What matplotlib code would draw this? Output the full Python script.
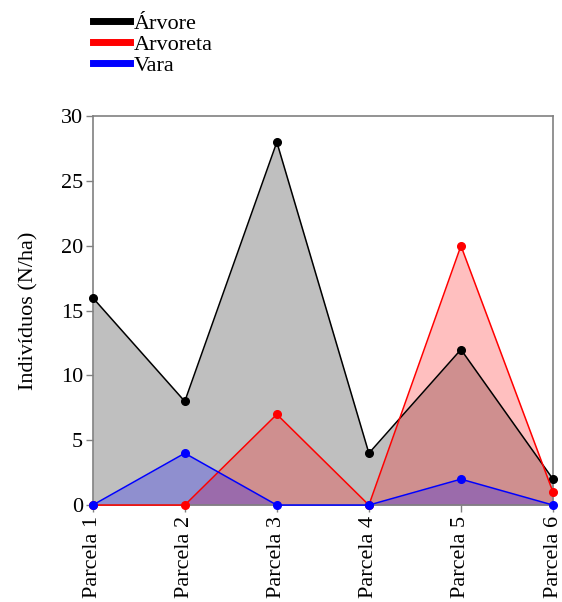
import matplotlib.pyplot as plt
import numpy as np
from matplotlib.lines import Line2D

plt.rcParams['font.family'] = ['Liberation Serif', 'DejaVu Serif']

# categorias
parcelas = ["Parcela 1", "Parcela 2", "Parcela 3", "Parcela 4", "Parcela 5", "Parcela 6"]

# valores por classe
arvore = [16, 8, 28, 4, 12, 2]
arvoreta = [0, 0, 7, 0, 20, 1]
vara = [0, 4, 0, 0, 2, 0]

series = [("Árvore", arvore, "black"), ("Arvoreta", arvoreta, "red"), ("Vara", vara, "blue")]

fs = 16

fig = plt.figure(figsize=(5.62, 6.02), dpi=100)
ax = fig.add_axes([0.165, 0.161, 0.819, 0.646])

x = np.arange(len(parcelas))
for nome, vals, cor in series:
    ax.fill_between(x, 0, vals, color=cor, alpha=0.25, linewidth=0)
    ax.plot(x, vals, color=cor, linewidth=1.1, marker="o", markersize=5.5, clip_on=False, zorder=3)

ax.set_xlim(0, len(parcelas) - 1)
ax.set_ylim(0, 30)
ax.set_yticks(range(0, 31, 5))
ax.set_xticks(x)
ax.set_xticklabels(parcelas, rotation=90, fontsize=fs)
ax.tick_params(axis="y", labelsize=fs, pad=2)
ax.tick_params(axis="x", pad=3)
ax.tick_params(color="#808080", length=5, width=1)
for s in ax.spines.values():
    s.set_color("#808080")
    s.set_linewidth(1.2)
ax.set_ylabel("Indivíduos (N/ha)", fontsize=fs, labelpad=16)

handles = [Line2D([], [], color=c, linewidth=5) for _, _, c in series]
fig.legend(handles, [n for n, _, _ in series], loc="upper left", bbox_to_anchor=(0.135, 1.005),
           frameon=False, fontsize=fs, handlelength=1.7, handletextpad=0.15,
           labelspacing=0.02, borderpad=0.25)

plt.savefig("out.png", dpi=100)
